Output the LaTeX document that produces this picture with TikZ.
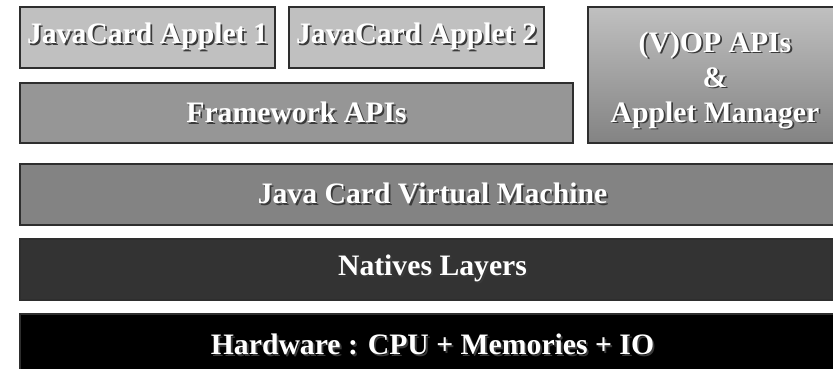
\documentclass[tikz,border=0pt]{standalone}
\usepackage{fontspec}
\setmainfont{Liberation Serif}
\definecolor{applet}{HTML}{C0C0C0}
\definecolor{fwk}{HTML}{969696}
\definecolor{vmc}{HTML}{838383}
\definecolor{nat}{HTML}{333333}
\definecolor{edge}{HTML}{2E2E2E}
\definecolor{shade}{HTML}{3A3A3A}
\newcommand\shadowed[1]{\makebox[0pt][l]{\hspace{1.8pt}\raisebox{-1.8pt}{\color{shade}#1}}#1}
\tikzset{
  layer/.style={draw=edge, line width=1.2pt, anchor=north west, inner sep=0pt, outer sep=0pt},
  label/.style={text=white, font=\fontsize{29.7}{35}\selectfont\bfseries, align=center, inner sep=0pt}
}
\begin{document}
\begin{tikzpicture}[x=1pt,y=-1pt]
\useasboundingbox (0,0) rectangle (833,368);
\clip (0,0) rectangle (833,368);
\fill[white] (0,0) rectangle (833,368);
\node[layer, fill=applet, minimum width=255, minimum height=61] (app1) at (20,7) {};
\node[layer, fill=applet, minimum width=255, minimum height=61] (app2) at (289,7) {};
\node[layer, fill=fwk, minimum width=553, minimum height=60] (fw) at (20,83) {};
\node[layer, top color=applet, bottom color=vmc, minimum width=254, minimum height=136] (vop) at (588,7) {};
\node[layer, fill=vmc, minimum width=825, minimum height=61] (jcvm) at (20,164) {};
\node[layer, fill=nat, minimum width=825, minimum height=61] (natl) at (20,239) {};
\node[layer, fill=black, minimum width=825, minimum height=62] (hw) at (20,314) {};

\node[label] (app1t) at (app1.center) {\shadowed{JavaCard Applet 1}};
\node[label] (app2t) at (app2.center) {\shadowed{JavaCard Applet 2}};
\node[label] (fwt) at (fw.center) {\shadowed{Framework APIs}};
\node[label] (vopt) at ([yshift=-6]vop.center) {\shadowed{(V)OP APIs}\\\shadowed{\&}\\\shadowed{Applet Manager}};
\node[label] (jcvmt) at (jcvm.center) {\shadowed{Java Card Virtual Machine}};
\node[label] (natt) at (natl.center) {\shadowed{Natives Layers}};
\node[label] (hwt) at (hw.center) {\shadowed{Hardware : CPU + Memories + IO}};
\end{tikzpicture}
\end{document}
